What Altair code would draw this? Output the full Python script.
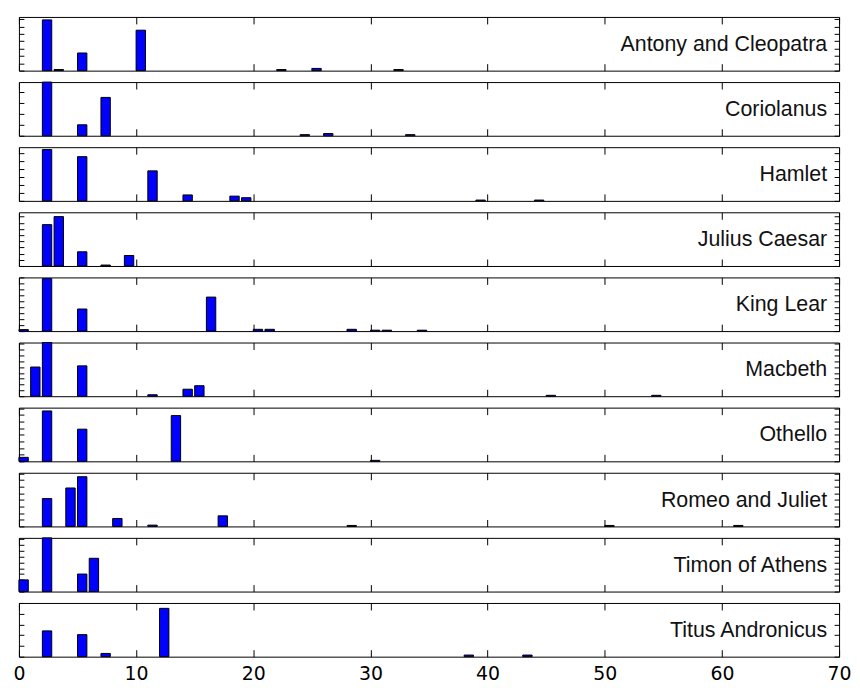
import altair as alt
import pandas as pd

plays = ["Antony and Cleopatra", "Coriolanus", "Hamlet", "Julius Caesar", "King Lear",
         "Macbeth", "Othello", "Romeo and Juliet", "Timon of Athens", "Titus Andronicus"]

antony_bins = [2, 3, 5, 10, 22, 25, 32]
antony_counts = [6.9, 0.15, 2.4, 5.5, 0.15, 0.3, 0.15]
coriolanus_bins = [2, 5, 7, 24, 26, 33]
coriolanus_counts = [4.9, 1.0, 3.5, 0.1, 0.2, 0.1]
hamlet_bins = [2, 5, 11, 14, 18, 19, 39, 44]
hamlet_counts = [6.5, 5.6, 3.8, 0.75, 0.6, 0.4, 0.1, 0.1]
caesar_bins = [2, 3, 5, 7, 9]
caesar_counts = [6.7, 8.0, 2.3, 0.15, 1.7]
lear_bins = [0, 2, 5, 16, 20, 21, 28, 30, 31, 34]
lear_counts = [0.25, 8.8, 3.7, 5.7, 0.3, 0.3, 0.3, 0.15, 0.15, 0.15]
macbeth_bins = [1, 2, 5, 11, 14, 15, 45, 54]
macbeth_counts = [5.0, 9.2, 5.2, 0.25, 1.2, 1.8, 0.15, 0.15]
othello_bins = [0, 2, 5, 13, 30]
othello_counts = [0.6, 7.6, 4.85, 6.9, 0.15]
romeo_bins = [2, 4, 5, 8, 11, 17, 28, 50, 61]
romeo_counts = [4.2, 5.8, 7.5, 1.2, 0.2, 1.6, 0.15, 0.15, 0.15]
timon_bins = [0, 2, 5, 6]
timon_counts = [2.0, 9.2, 3.0, 5.7]
titus_bins = [2, 5, 7, 12, 38, 43]
titus_counts = [2.4, 2.05, 0.3, 4.5, 0.15, 0.15]

y_max = [7.3, 4.9, 6.8, 8.7, 9.0, 9.2, 8.1, 8.1, 9.2, 5.0]
x_ticks = [0, 10, 20, 30, 40, 50, 60, 70]
bar_width = 0.8

all_bins = [antony_bins, coriolanus_bins, hamlet_bins, caesar_bins, lear_bins,
            macbeth_bins, othello_bins, romeo_bins, timon_bins, titus_bins]
all_counts = [antony_counts, coriolanus_counts, hamlet_counts, caesar_counts, lear_counts,
              macbeth_counts, othello_counts, romeo_counts, timon_counts, titus_counts]

W = 825
H = 54


def panel(name, bins, counts, ymax, last):
    df = pd.DataFrame({"bin": bins,
                       "bin_end": [b + bar_width for b in bins],
                       "count": counts})
    xaxis = alt.Axis(values=x_ticks, labels=last, ticks=False, domain=False, title=None,
                     grid=True, gridColor="black", gridOpacity=1, gridWidth=1,
                     gridDash=[7, H - 14, 7, 500],
                     labelFont="DejaVu Sans", labelFontSize=19, labelColor="black",
                     labelPadding=8, labelFlush=False)
    yaxis = alt.Axis(values=list(range(0, int(ymax) + 1)), labels=False, ticks=False,
                     domain=False, title=None, minExtent=0,
                     grid=True, gridColor="black", gridOpacity=1, gridWidth=1,
                     gridDash=[5, W - 10, 5, 3000])
    bars = alt.Chart(df).mark_bar(color="#0000ff", stroke="black", strokeWidth=1).encode(
        x=alt.X("bin:Q", scale=alt.Scale(domain=[0, 70], nice=False, zero=False), axis=xaxis),
        x2="bin_end:Q",
        y=alt.Y("count:Q", scale=alt.Scale(domain=[0, ymax], nice=False), axis=yaxis),
        y2=alt.datum(0),
    )
    text = alt.Chart(pd.DataFrame({"play": [name]})).mark_text(
        align="right", baseline="middle", font="Liberation Sans", fontSize=21.5, color="#111111"
    ).encode(x=alt.value(W - 12), y=alt.value(H / 2 + 1), text="play:N")
    return alt.layer(bars, text).properties(width=W, height=H)


panels = [panel(plays[i], all_bins[i], all_counts[i], y_max[i], i == len(plays) - 1)
          for i in range(len(plays))]

chart = alt.vconcat(*panels, spacing=9.5).properties(
    padding={"left": 4, "top": 6, "right": 0, "bottom": 0}
).configure_view(stroke="black", strokeWidth=1)

chart.save("out.html", embed_options={"renderer": "svg", "actions": False})
